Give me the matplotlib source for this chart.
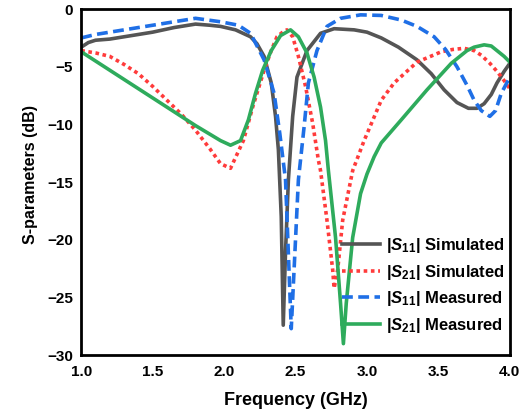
import matplotlib.pyplot as plt
import numpy as np

plt.rcParams['font.family'] = ['Liberation Sans', 'DejaVu Sans']
plt.rcParams['font.weight'] = 'bold'
plt.rcParams['mathtext.fontset'] = 'custom'
plt.rcParams['mathtext.rm'] = 'Liberation Sans:bold'
plt.rcParams['mathtext.it'] = 'Liberation Sans:italic:bold'

# |S11| simuleret
f_s11_sim = [1.0, 1.05, 1.1, 1.2, 1.3, 1.4, 1.5, 1.65, 1.8, 1.9, 1.975, 2.08, 2.185, 2.23,
             2.28, 2.33, 2.36, 2.38, 2.40, 2.414, 2.43, 2.45, 2.48, 2.51, 2.58, 2.675, 2.77,
             2.91, 3.0, 3.1, 3.22, 3.35, 3.45, 3.54, 3.63, 3.71, 3.77, 3.82, 3.87, 3.91,
             3.96, 4.0]
s11_sim = [-3.3, -2.9, -2.7, -2.6, -2.4, -2.2, -2.0, -1.6, -1.3, -1.4, -1.5, -1.8, -2.4, -3.0,
           -4.1, -6.4, -9.3, -12.2, -18.0, -27.4, -21.0, -14.8, -9.3, -5.9, -3.6, -2.1, -1.7,
           -1.8, -2.0, -2.5, -3.3, -4.4, -5.6, -7.0, -8.1, -8.6, -8.6, -8.2, -7.4, -6.4,
           -5.4, -4.7]

# |S21| simuleret
f_s21_sim = [1.0, 1.1, 1.2, 1.3, 1.4, 1.5, 1.6, 1.7, 1.8, 1.9, 1.975, 2.045, 2.135, 2.2,
             2.28, 2.33, 2.37, 2.42, 2.44, 2.48, 2.52, 2.57, 2.62, 2.66, 2.675, 2.72, 2.76,
             2.77, 2.795, 2.83, 2.9, 2.98, 3.1, 3.19, 3.35, 3.52, 3.6, 3.68, 3.75, 3.8,
             3.86, 3.91, 3.96, 4.0]
s21_sim = [-3.6, -3.8, -4.1, -4.8, -5.6, -6.7, -7.9, -9.1, -10.5, -12.1, -13.4, -13.8, -11.4,
           -8.5, -5.3, -3.6, -2.4, -1.9, -1.8, -2.4, -4.1, -6.7, -9.9, -13.1, -14.0, -18.3,
           -22.6, -24.2, -22.6, -18.3, -14.0, -11.4, -7.9, -6.4, -4.6, -3.7, -3.5, -3.4, -3.6,
           -4.0, -4.7, -5.4, -6.2, -6.9]

# |S11| maalt
f_s11_mea = [1.0, 1.1, 1.2, 1.35, 1.5, 1.65, 1.8, 1.975, 2.1, 2.185, 2.28, 2.35, 2.39, 2.43,
             2.44, 2.47, 2.52, 2.56, 2.59, 2.65, 2.72, 2.815, 2.955, 3.1, 3.24, 3.35, 3.47,
             3.55, 3.63, 3.7, 3.75, 3.8, 3.86, 3.9, 3.94, 4.0]
s11_mea = [-2.5, -2.2, -2.0, -1.7, -1.4, -1.1, -0.8, -1.1, -1.4, -2.1, -4.4, -7.3, -10.8, -14.8,
           -18.0, -27.7, -14.8, -10.2, -6.4, -3.6, -1.5, -0.8, -0.5, -0.55, -0.95, -1.5, -2.4,
           -3.5, -5.0, -6.6, -7.9, -8.8, -9.3, -8.8, -7.3, -5.9]

# |S21| maalt
f_s21_mea = [1.0, 1.2, 1.4, 1.6, 1.8, 1.975, 2.045, 2.115, 2.17, 2.22, 2.27, 2.33, 2.395,
             2.465, 2.52, 2.58, 2.63, 2.675, 2.71, 2.73, 2.78, 2.815, 2.835, 2.855, 2.9,
             2.955, 3.0, 3.05, 3.1, 3.24, 3.42, 3.59, 3.7, 3.75, 3.82, 3.87, 3.91, 3.96, 4.0]
s21_mea = [-3.7, -5.3, -6.9, -8.5, -10.1, -11.4, -11.8, -11.4, -9.6, -7.3, -5.3, -3.6, -2.3,
           -1.8, -2.4, -3.8, -5.9, -8.5, -11.4, -14.0, -19.8, -25.5, -29.0, -25.5, -19.8,
           -16.0, -14.3, -12.8, -11.6, -9.6, -7.0, -4.7, -3.6, -3.3, -3.1, -3.2, -3.6, -4.1,
           -4.6]

fig = plt.figure(figsize=(5.24, 4.13), dpi=100)
ax = fig.add_axes([0.155, 0.14, 0.818, 0.838])

ax.plot(f_s11_sim, s11_sim, color='#555555', lw=2.6, label='|$S_{11}$| Simulated')
ax.plot(f_s21_sim, s21_sim, color='#ff3b3b', lw=2.6, ls=(0, (1, 1)), label='|$S_{21}$| Simulated')
ax.plot(f_s11_mea, s11_mea, color='#1f6fe6', lw=2.6, ls=(0, (3, 1.5)), label='|$S_{11}$| Measured')
ax.plot(f_s21_mea, s21_mea, color='#2eab5c', lw=2.6, label='|$S_{21}$| Measured')

ax.set_xlim(1.0, 4.0)
ax.set_ylim(-30, 0)
ax.set_xticks(np.arange(1.0, 4.01, 0.5))
ax.set_xticklabels(['1.0', '1.5', '2.0', '2.5', '3.0', '3.5', '4.0'])
ax.set_yticks(np.arange(-30, 1, 5))
ax.tick_params(axis='x', length=0, labelsize=11, pad=7)
ax.tick_params(axis='y', length=0, labelsize=11, pad=6)
for s in ax.spines.values():
    s.set_linewidth(2)

ax.set_xlabel('Frequency (GHz)', fontsize=13, fontweight='bold')
ax.set_ylabel('S-parameters (dB)', fontsize=11.5, fontweight='bold')
ax.xaxis.set_label_coords(0.5, -0.105)
ax.yaxis.set_label_coords(-0.10, 0.523)

ax.legend(loc='lower right', bbox_to_anchor=(1.012, 0.03), frameon=False, fontsize=12,
          handlelength=2.3, handletextpad=0.35, labelspacing=0.45, borderaxespad=0.2)

fig.savefig('out.png', dpi=100)
